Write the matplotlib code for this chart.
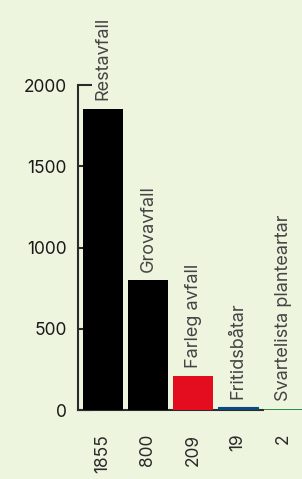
import matplotlib
matplotlib.use("Agg")
import matplotlib.pyplot as plt
import numpy as np

categories = ["Restavfall", "Grovavfall", "Farleg avfall", "Fritidsbåtar", "Svartelista planteartar"]
values = [1855, 800, 209, 19, 2]
tick_labels = ["1855", "800", "209", "19", "2"]
colors = ["#000000", "#000000", "#E30D1F", "#0B4A7C", "#1E7A3A"]
yticks = [0, 500, 1000, 1500, 2000]

bg = "#EEF5DF"
ink = "#2B2B2B"
plt.rcParams['font.family'] = ['Inter', 'DejaVu Sans']

fig = plt.figure(figsize=(3.02, 4.79), dpi=100, facecolor=bg)
ax = fig.add_axes([0.258, 0.144, 0.742, 0.6785])
ax.set_facecolor(bg)

x = np.arange(len(values))
# tiny bars get an edge so they stay visible as a thin line
ax.bar(x, values, width=0.9, color=colors, edgecolor=colors,
       linewidth=[0, 0, 0, 0.8, 2.0], zorder=3)

for xi, v, name in zip(x, values, categories):
    ax.annotate(name, (xi, v), xytext=(0, 6), textcoords="offset points",
                rotation=90, ha="center", va="bottom", fontsize=13,
                color="#444444", annotation_clip=False)

ax.set_xlim(-0.556, 4.42)
ax.set_ylim(0, 2000)
ax.set_yticks(yticks)
ax.set_xticks(x)
ax.set_xticklabels(tick_labels, rotation=90, va="top")

for s in ["top", "right"]:
    ax.spines[s].set_visible(False)
ax.spines["left"].set_bounds(0, 2000)
ax.spines["bottom"].set_bounds(-0.556, 3.56)
for s in ["left", "bottom"]:
    ax.spines[s].set_linewidth(1.5)
    ax.spines[s].set_color(ink)
    ax.spines[s].set_zorder(2)

ax.tick_params(axis="y", direction="in", length=10, width=1.5, color=ink,
               labelsize=12.5, labelcolor="#1A1A1A", pad=8)
ax.tick_params(axis="x", length=0, labelsize=12.5, labelcolor="#2A2A2A", pad=17)

fig.savefig("out.png", dpi=100, facecolor=bg)
